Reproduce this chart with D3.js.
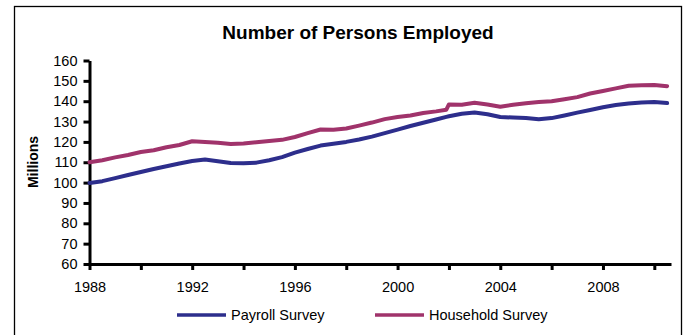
<!DOCTYPE html>
<html>
<head>
<meta charset="utf-8">
<script src="https://cdn.jsdelivr.net/npm/d3@7/dist/d3.min.js"></script>
<style>
  html, body { margin: 0; padding: 0; background: #fff; }
  svg { display: block; font-family: "Liberation Sans", Arial, sans-serif; }
</style>
</head>
<body>
<svg id="chart" width="688" height="335"></svg>
<script>
// Employment, millions of persons (semi-annual readings)
const years = [
  1988.0, 1988.5, 1989.0, 1989.5, 1990.0, 1990.5, 1991.0, 1991.5, 1992.0, 1992.5,
  1993.0, 1993.5, 1994.0, 1994.5, 1995.0, 1995.5, 1996.0, 1996.5, 1997.0, 1997.5,
  1998.0, 1998.5, 1999.0, 1999.5, 2000.0, 2000.5, 2001.0, 2001.5, 2001.9, 2002.0,
  2002.5, 2003.0, 2003.5, 2004.0, 2004.5, 2005.0, 2005.5, 2006.0, 2006.5, 2007.0,
  2007.5, 2008.0, 2008.5, 2009.0, 2009.5, 2010.0, 2010.5
];
const payroll = [
   99.8, 100.7, 102.2, 103.7, 105.2, 106.7, 108.0, 109.4, 110.6, 111.3,
  110.5, 109.6, 109.5, 109.8, 111.0, 112.5, 114.7, 116.5, 118.2, 119.1,
  120.0, 121.2, 122.6, 124.3, 126.0, 127.8, 129.4, 131.0, 132.3, 132.6,
  133.8, 134.4, 133.6, 132.2, 132.0, 131.7, 131.1, 131.7, 133.0, 134.4,
  135.7, 137.0, 138.1, 138.9, 139.4, 139.6, 139.1
];
const household = [
  110.0, 111.0, 112.4, 113.6, 115.0, 115.9, 117.4, 118.5, 120.3, 120.0,
  119.6, 119.0, 119.2, 119.8, 120.4, 121.0, 122.4, 124.3, 126.1, 126.0,
  126.6, 128.0, 129.5, 131.2, 132.2, 133.0, 134.2, 135.0, 135.8, 138.4,
  138.3, 139.2, 138.4, 137.3, 138.3, 139.0, 139.6, 140.0, 141.0, 142.0,
  143.8, 145.0, 146.3, 147.6, 147.8, 148.0, 147.4
];
const yTicks = [60, 70, 80, 90, 100, 110, 120, 130, 140, 150, 160];
const xTicks = [1988, 1990, 1992, 1994, 1996, 1998, 2000, 2002, 2004, 2006, 2008, 2010];
const xLabels = [1988, 1992, 1996, 2000, 2004, 2008];
const seriesNames = ["Payroll Survey", "Household Survey"];
const seriesColors = ["#2d2e8c", "#a0336b"];

const svg = d3.select("#chart");

// outer frame
svg.append("rect")
  .attr("x", 14.5).attr("y", 6.5)
  .attr("width", 667).attr("height", 340)
  .attr("fill", "none").attr("stroke", "#000").attr("stroke-width", 1.3);

const x = d3.scaleLinear().domain([1988, 2010.65]).range([89.5, 671]);
const y = d3.scaleLinear().domain([60, 160]).range([264, 60.5]);

// title
svg.append("text")
  .attr("x", 358).attr("y", 39)
  .attr("text-anchor", "middle")
  .attr("font-size", 19).attr("font-weight", "bold")
  .text("Number of Persons Employed");

// y axis title
svg.append("text")
  .attr("transform", "translate(38,162) rotate(-90)")
  .attr("text-anchor", "middle")
  .attr("font-size", 14).attr("font-weight", "bold")
  .text("Millions");

// y axis
const yAxis = svg.append("g")
  .attr("transform", `translate(${x.range()[0]},0)`)
  .call(d3.axisLeft(y).tickValues(yTicks).tickSize(6).tickPadding(6).tickSizeOuter(0));
yAxis.select(".domain").attr("stroke-width", 3);
yAxis.selectAll(".tick line").attr("stroke-width", 3);
yAxis.selectAll(".tick text").attr("font-size", 14.5).attr("fill", "#000")
  .attr("font-family", "'Liberation Sans', Arial, sans-serif");

// x axis
const xAxis = svg.append("g")
  .attr("transform", `translate(0,${y(60)})`)
  .call(d3.axisBottom(x).tickValues(xTicks).tickSize(6).tickPadding(12).tickSizeOuter(0)
    .tickFormat(d => xLabels.includes(d) ? String(d) : ""));
xAxis.select(".domain").attr("stroke-width", 3);
xAxis.selectAll(".tick line").attr("stroke-width", 3);
xAxis.selectAll(".tick text").attr("font-size", 14.5).attr("fill", "#000")
  .attr("font-family", "'Liberation Sans', Arial, sans-serif");

// series lines
const line = vals => d3.line()
  .x((d, i) => x(years[i]))
  .y(d => y(d))(vals);

[payroll, household].forEach((vals, k) => {
  svg.append("path")
    .attr("d", line(vals))
    .attr("fill", "none")
    .attr("stroke", seriesColors[k])
    .attr("stroke-width", 4)
    .attr("stroke-linejoin", "round")
    .attr("stroke-linecap", "round");
});

// legend
const legendX = [177, 375];
seriesNames.forEach((name, k) => {
  const g = svg.append("g").attr("transform", `translate(${legendX[k]},315)`);
  g.append("line").attr("x1", 0).attr("x2", 49).attr("y1", 0).attr("y2", 0)
    .attr("stroke", seriesColors[k]).attr("stroke-width", 3.5);
  g.append("text").attr("x", 54).attr("y", 5)
    .attr("font-size", 14.5).text(name);
});
</script>
</body>
</html>
